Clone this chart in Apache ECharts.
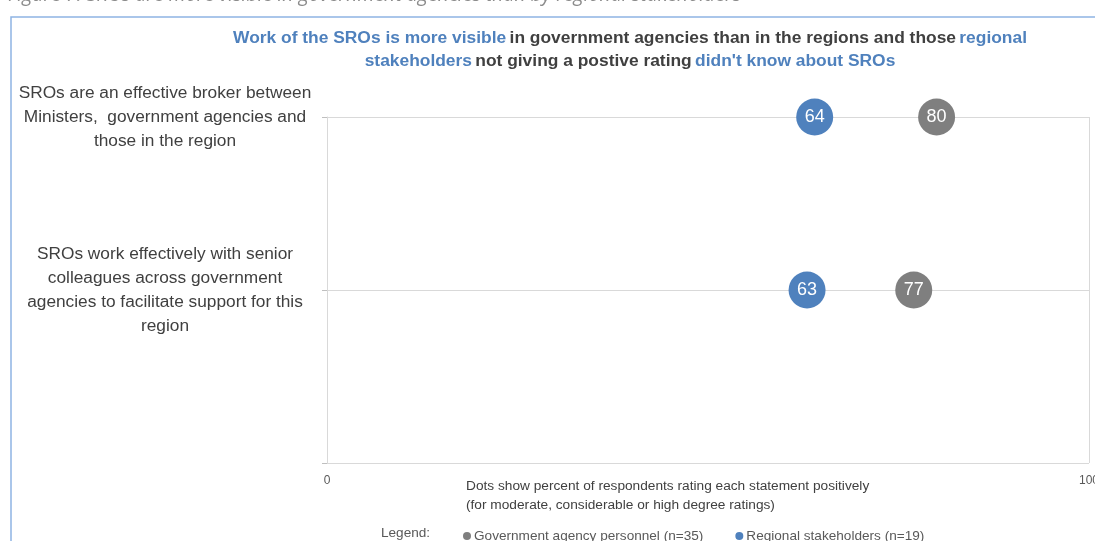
<!DOCTYPE html>
<html>
<head>
<meta charset="utf-8">
<script src="https://cdn.jsdelivr.net/npm/echarts@6/dist/echarts.min.js"></script>
<style>html,body{margin:0;padding:0;background:#fff;}#c{width:1095px;height:541px;}</style>
</head>
<body>
<div id="c"></div>
<script>
const categories = [
  'SROs are an effective broker between\nMinisters,  government agencies and\nthose in the region',
  'SROs work effectively with senior\ncolleagues across government\nagencies to facilitate support for this\nregion'
];
const govValues = [80, 77];
const regionalValues = [64, 63];
const seriesNames = ['Government agency personnel (n=35)', 'Regional stakeholders (n=19)'];
const xTicks = [0, 100];

const FONT = '"Liberation Sans", Arial, sans-serif';
const BLUE = '#4f81bd';
const GRAY = '#7f7f7f';
const n = categories.length;
const toPts = vals => vals.map((v, i) => [v, n - i]);

const chart = echarts.init(document.getElementById('c'), null, {renderer: 'canvas'});
chart.setOption({
  animation: false,
  grid: {left: 327, right: 6, top: 117, bottom: 78, containLabel: false, outerBoundsMode: 'none'},
  xAxis: {
    type: 'value', min: xTicks[0], max: xTicks[1], interval: 100,
    axisLine: {show: false}, axisTick: {show: false},
    splitLine: {show: true, lineStyle: {color: '#d9d9d9', width: 1}},
    axisLabel: {color: '#595959', fontFamily: FONT, fontSize: 12, margin: 12}
  },
  yAxis: {
    type: 'value', min: 0, max: n, interval: 1,
    axisLine: {show: true, lineStyle: {color: '#d9d9d9'}},
    axisTick: {show: true, length: 5, lineStyle: {color: '#bfbfbf'}},
    splitLine: {show: true, lineStyle: {color: '#d9d9d9', width: 1}},
    axisLabel: {
      align: 'center', margin: 162, color: '#404040', fontFamily: FONT,
      fontSize: 17.3, lineHeight: 24, padding: [6, 0, 0, 0],
      formatter: v => (v >= 1 && v <= n) ? categories[n - v] : ''
    }
  },
  legend: {
    left: 458, top: 524, itemWidth: 8, itemHeight: 8, itemGap: 32, icon: 'circle',
    textStyle: {color: '#595959', fontFamily: FONT, fontSize: 13.6, padding: [0, 0, 0, -2]},
    data: seriesNames
  },
  series: [
    {
      name: seriesNames[0], type: 'scatter', symbolSize: 37,
      itemStyle: {color: GRAY, opacity: 1},
      label: {show: true, position: 'inside', color: '#fff', fontFamily: FONT, fontSize: 18,
        formatter: p => p.value[0]},
      data: toPts(govValues)
    },
    {
      name: seriesNames[1], type: 'scatter', symbolSize: 37,
      itemStyle: {color: BLUE, opacity: 1},
      label: {show: true, position: 'inside', color: '#fff', fontFamily: FONT, fontSize: 18,
        formatter: p => p.value[0]},
      data: toPts(regionalValues)
    }
  ],
  graphic: [
    {type: 'rect', shape: {x: 11, y: 17, width: 1200, height: 700}, z: -1,
      style: {fill: 'none', stroke: '#8eb4e3', lineWidth: 1.5}},
    {type: 'text', x: 8, y: -5, style: {
      text: 'Figure 7: SROs are more visible in government agencies than by regional stakeholders',
      font: 'italic 19.5px "Open Sans", "DejaVu Sans", sans-serif', fill: '#8c8c8c',
      textAlign: 'left', textVerticalAlign: 'middle'}},
    {type: 'text', x: 630, y: 50, style: {
      text: '{b|Work of the SROs is more visible} {d|in government agencies than in the regions and those} {b|regional}\n{b|stakeholders} {d|not giving a postive rating} {b|didn\'t know about SROs}',
      textAlign: 'center', textVerticalAlign: 'middle',
      rich: {
        b: {fontFamily: FONT, fontSize: 17.4, fontWeight: 'bold', fill: BLUE, lineHeight: 23},
        d: {fontFamily: FONT, fontSize: 17.4, fontWeight: 'bold', fill: '#404040', lineHeight: 23}
      }}},
    {type: 'text', x: 466, y: 496, style: {
      text: 'Dots show percent of respondents rating each statement positively\n(for moderate, considerable or high degree ratings)',
      font: '13.7px ' + FONT, fill: '#404040', lineHeight: 19,
      textAlign: 'left', textVerticalAlign: 'middle'}},
    {type: 'text', x: 381, y: 533, style: {
      text: 'Legend:', font: '13.6px ' + FONT, fill: '#595959',
      textAlign: 'left', textVerticalAlign: 'middle'}}
  ]
});
</script>
</body>
</html>
